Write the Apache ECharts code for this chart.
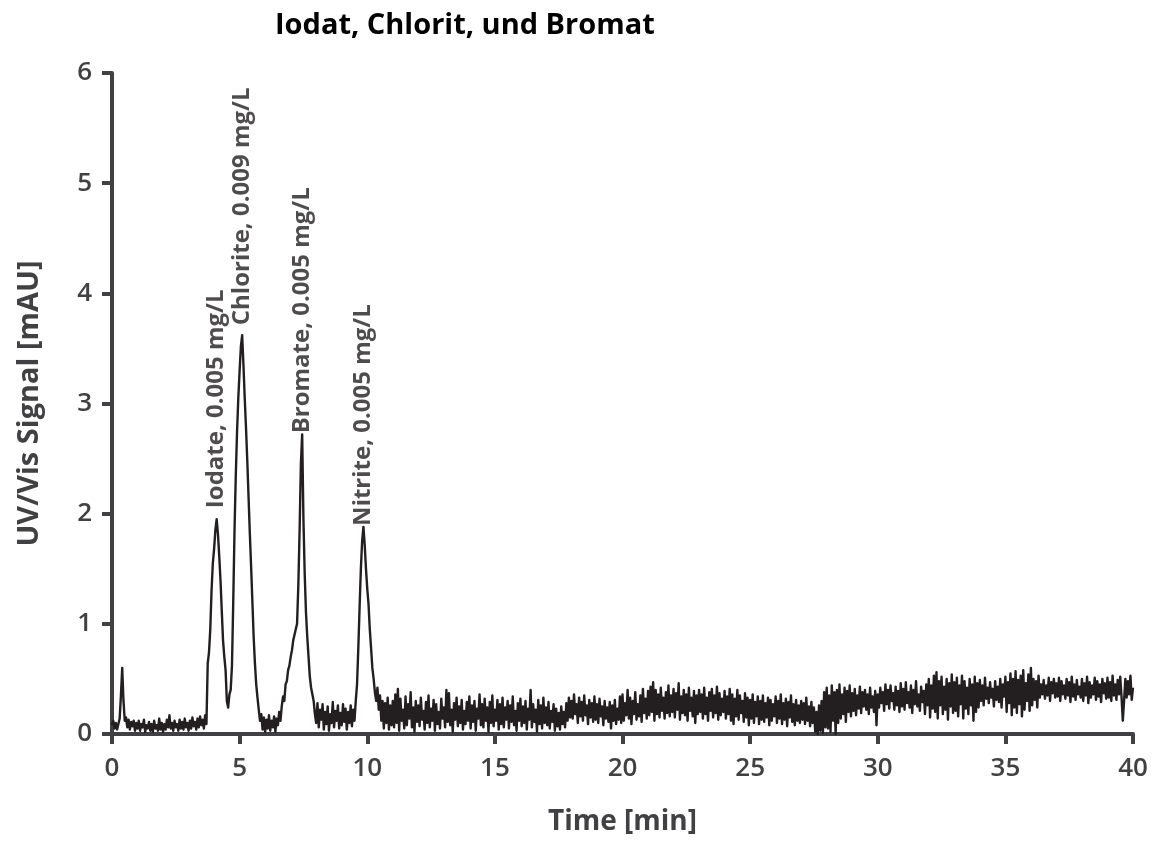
<!DOCTYPE html>
<html>
<head>
<meta charset="utf-8">
<script src="https://cdn.jsdelivr.net/npm/echarts@6/dist/echarts.min.js"></script>
<style>
  html, body { margin: 0; padding: 0; background: #ffffff; }
  #chart { width: 1158px; height: 843px; }
</style>
</head>
<body>
<div id="chart"></div>
<script>
// ---- data ----
const chartTitle = 'Iodat, Chlorit, und Bromat';
const xAxisTitle = 'Time [min]';
const yAxisTitle = 'UV/Vis Signal [mAU]';
const xTicks = [0, 5, 10, 15, 20, 25, 30, 35, 40];
const yTicks = [0, 1, 2, 3, 4, 5, 6];

// detector signal in mAU, sampled every 0.05 min from 0.00 to 40.00 min (one row per minute)
const startMin = 0;
const stepMin = 0.05;
const signal = [
  0.08, 0.12, 0.05, 0.10, 0.04, 0.09, 0.14, 0.35, 0.60, 0.30, 0.12, 0.15, 0.06, 0.13, 0.04, 0.11, 0.07, 0.12, 0.03, 0.10,
  0.05, 0.12, 0.03, 0.09, 0.06, 0.13, 0.02, 0.08, 0.05, 0.11, 0.03, 0.09, 0.02, 0.12, 0.05, 0.08, 0.03, 0.14, 0.04, 0.10,
  0.02, 0.09, 0.04, 0.13, 0.06, 0.17, 0.05, 0.10, 0.03, 0.12, 0.06, 0.09, 0.03, 0.13, 0.05, 0.11, 0.04, 0.14, 0.06, 0.10,
  0.03, 0.12, 0.05, 0.15, 0.07, 0.11, 0.04, 0.14, 0.06, 0.16, 0.08, 0.13, 0.05, 0.17, 0.09, 0.64, 0.74, 0.95, 1.30, 1.55,
  1.68, 1.85, 1.95, 1.82, 1.62, 1.40, 1.12, 0.85, 0.70, 0.58, 0.30, 0.24, 0.36, 0.40, 0.62, 1.20, 1.85, 2.35, 2.75, 3.06,
  3.30, 3.52, 3.62, 3.35, 3.05, 2.78, 2.48, 2.15, 1.82, 1.52, 1.20, 0.88, 0.64, 0.45, 0.33, 0.22, 0.12, 0.18, 0.04, 0.15,
  0.02, 0.13, 0.05, 0.17, 0.03, 0.12, 0.06, 0.16, 0.02, 0.14, 0.08, 0.20, 0.12, 0.25, 0.34, 0.30, 0.45, 0.48, 0.58, 0.62,
  0.70, 0.76, 0.85, 0.90, 0.95, 1.00, 1.35, 1.85, 2.45, 2.72, 1.95, 1.45, 1.10, 0.88, 0.70, 0.52, 0.42, 0.36, 0.30, 0.18,
  0.10, 0.28, 0.06, 0.22, 0.13, 0.27, 0.04, 0.20, 0.09, 0.25, 0.03, 0.18, 0.10, 0.29, 0.06, 0.21, 0.12, 0.26, 0.05, 0.19,
  0.08, 0.27, 0.11, 0.23, 0.04, 0.20, 0.10, 0.26, 0.07, 0.22, 0.12, 0.30, 0.45, 0.78, 1.15, 1.50, 1.75, 1.88, 1.72, 1.50,
  1.32, 1.18, 0.95, 0.78, 0.60, 0.50, 0.38, 0.30, 0.42, 0.22, 0.35, 0.12, 0.30, 0.05, 0.28, 0.10, 0.33, 0.04, 0.26, 0.08,
  0.30, 0.06, 0.36, 0.10, 0.41, 0.03, 0.32, 0.12, 0.22, 0.05, 0.34, 0.08, 0.27, 0.14, 0.38, 0.06, 0.24, 0.02, 0.30, 0.11,
  0.26, 0.07, 0.33, 0.13, 0.21, 0.04, 0.29, 0.10, 0.35, 0.06, 0.23, 0.12, 0.31, 0.03, 0.27, 0.09, 0.20, 0.05, 0.32, 0.14,
  0.24, 0.06, 0.40, 0.11, 0.37, 0.08, 0.22, 0.02, 0.28, 0.13, 0.33, 0.07, 0.25, 0.10, 0.31, 0.04, 0.21, 0.09, 0.29, 0.12,
  0.34, 0.05, 0.26, 0.11, 0.30, 0.03, 0.23, 0.14, 0.36, 0.08, 0.27, 0.06, 0.32, 0.12, 0.24, 0.02, 0.29, 0.10, 0.35, 0.07,
  0.22, 0.12, 0.31, 0.04, 0.27, 0.09, 0.33, 0.06, 0.24, 0.13, 0.30, 0.05, 0.26, 0.11, 0.34, 0.08, 0.21, 0.03, 0.28, 0.12,
  0.32, 0.07, 0.25, 0.10, 0.30, 0.04, 0.23, 0.13, 0.40, 0.06, 0.27, 0.11, 0.22, 0.02, 0.31, 0.09, 0.26, 0.05, 0.33, 0.10,
  0.24, 0.08, 0.29, 0.05, 0.21, 0.11, 0.27, 0.03, 0.23, 0.07, 0.19, 0.04, 0.25, 0.09, 0.20, 0.06, 0.28, 0.12, 0.33, 0.15,
  0.30, 0.14, 0.36, 0.18, 0.27, 0.10, 0.33, 0.16, 0.29, 0.12, 0.35, 0.17, 0.26, 0.09, 0.31, 0.15, 0.28, 0.11, 0.34, 0.13,
  0.27, 0.10, 0.32, 0.16, 0.25, 0.08, 0.30, 0.14, 0.24, 0.11, 0.29, 0.05, 0.26, 0.12, 0.31, 0.09, 0.23, 0.13, 0.34, 0.10,
  0.36, 0.12, 0.28, 0.17, 0.40, 0.14, 0.33, 0.09, 0.30, 0.18, 0.38, 0.13, 0.27, 0.16, 0.35, 0.11, 0.41, 0.19, 0.32, 0.14,
  0.39, 0.17, 0.43, 0.20, 0.47, 0.12, 0.40, 0.18, 0.36, 0.15, 0.42, 0.21, 0.33, 0.14, 0.38, 0.19, 0.44, 0.16, 0.35, 0.20,
  0.41, 0.15, 0.37, 0.22, 0.46, 0.13, 0.34, 0.19, 0.40, 0.17, 0.36, 0.12, 0.42, 0.21, 0.33, 0.16, 0.39, 0.10, 0.35, 0.18,
  0.40, 0.20, 0.36, 0.14, 0.42, 0.18, 0.33, 0.12, 0.38, 0.21, 0.41, 0.15, 0.35, 0.19, 0.43, 0.13, 0.37, 0.17, 0.32, 0.20,
  0.39, 0.14, 0.34, 0.18, 0.41, 0.12, 0.36, 0.09, 0.32, 0.16, 0.40, 0.13, 0.35, 0.19, 0.30, 0.11, 0.37, 0.15, 0.33, 0.08,
  0.31, 0.14, 0.36, 0.10, 0.29, 0.16, 0.34, 0.09, 0.30, 0.13, 0.35, 0.11, 0.28, 0.15, 0.33, 0.08, 0.31, 0.12, 0.27, 0.16,
  0.34, 0.10, 0.30, 0.14, 0.36, 0.09, 0.28, 0.13, 0.32, 0.07, 0.29, 0.15, 0.35, 0.11, 0.27, 0.08, 0.31, 0.12, 0.26, 0.10,
  0.30, 0.13, 0.28, 0.09, 0.33, 0.12, 0.25, 0.07, 0.29, 0.10, 0.24, 0.02, 0.20, 0.00, 0.26, 0.03, 0.30, 0.01, 0.38, 0.06,
  0.42, 0.05, 0.35, 0.02, 0.44, 0.12, 0.38, 0.00, 0.40, 0.10, 0.45, 0.14, 0.36, 0.18, 0.42, 0.11, 0.39, 0.20, 0.44, 0.16,
  0.37, 0.21, 0.41, 0.17, 0.35, 0.23, 0.43, 0.19, 0.38, 0.25, 0.40, 0.22, 0.36, 0.18, 0.42, 0.24, 0.34, 0.20, 0.39, 0.08,
  0.36, 0.24, 0.42, 0.28, 0.38, 0.21, 0.45, 0.27, 0.40, 0.23, 0.44, 0.30, 0.37, 0.22, 0.43, 0.26, 0.39, 0.20, 0.46, 0.25,
  0.41, 0.22, 0.47, 0.28, 0.38, 0.24, 0.44, 0.19, 0.40, 0.27, 0.48, 0.25, 0.36, 0.21, 0.43, 0.29, 0.39, 0.18, 0.45, 0.26,
  0.50, 0.15, 0.44, 0.23, 0.53, 0.20, 0.56, 0.14, 0.48, 0.26, 0.52, 0.18, 0.43, 0.22, 0.50, 0.13, 0.46, 0.25, 0.54, 0.19,
  0.47, 0.21, 0.51, 0.16, 0.44, 0.27, 0.53, 0.14, 0.48, 0.23, 0.42, 0.18, 0.50, 0.26, 0.45, 0.12, 0.52, 0.20, 0.46, 0.24,
  0.49, 0.30, 0.44, 0.26, 0.51, 0.32, 0.42, 0.28, 0.47, 0.33, 0.41, 0.25, 0.48, 0.31, 0.43, 0.29, 0.50, 0.24, 0.45, 0.34,
  0.52, 0.20, 0.47, 0.28, 0.55, 0.17, 0.50, 0.24, 0.57, 0.19, 0.49, 0.27, 0.53, 0.16, 0.58, 0.22, 0.46, 0.30, 0.54, 0.21,
  0.60, 0.26, 0.50, 0.31, 0.48, 0.24, 0.53, 0.33, 0.45, 0.36, 0.49, 0.32, 0.44, 0.35, 0.51, 0.30, 0.47, 0.37, 0.50, 0.33,
  0.46, 0.34, 0.51, 0.30, 0.48, 0.36, 0.44, 0.32, 0.50, 0.35, 0.47, 0.29, 0.52, 0.34, 0.45, 0.31, 0.49, 0.36, 0.43, 0.33,
  0.50, 0.30, 0.46, 0.35, 0.52, 0.28, 0.47, 0.33, 0.44, 0.36, 0.51, 0.31, 0.48, 0.34, 0.45, 0.29, 0.50, 0.37, 0.46, 0.32,
  0.51, 0.33, 0.47, 0.30, 0.53, 0.35, 0.45, 0.31, 0.49, 0.36, 0.52, 0.34, 0.12, 0.30, 0.50, 0.33, 0.48, 0.36, 0.53, 0.31,
  0.42
];

// peak annotations
const peakNames   = ['Iodate, 0.005 mg/L', 'Chlorite, 0.009 mg/L', 'Bromate, 0.005 mg/L', 'Nitrite, 0.005 mg/L'];
const peakTimes   = [4.1, 5.1, 7.45, 9.85];
const peakHeights = [1.95, 3.62, 2.72, 1.88];

// ---- chart ----
const FONT = 'Open Sans';
const AXIS_COLOR = '#414042';
const TEXT_GRAY = '#414042';
const labelGaps = [11, 10, 1, 1];

const lineData = signal.map((v, i) => [+(startMin + i * stepMin).toFixed(2), v]);
const peakData = peakNames.map((n, i) => ({
  name: n,
  value: [peakTimes[i], peakHeights[i]],
  label: { distance: labelGaps[i] }
}));

const chart = echarts.init(document.getElementById('chart'), null, { renderer: 'canvas' });
chart.setOption({
  animation: false,
  backgroundColor: '#ffffff',
  title: {
    text: chartTitle,
    left: 270,
    top: 6,
    textStyle: { fontFamily: FONT, fontWeight: 'bold', fontSize: 29, color: '#000000' }
  },
  grid: { left: 112, right: 25, top: 73, bottom: 109, containLabel: false },
  xAxis: {
    type: 'value',
    min: 0, max: 40, interval: 5,
    name: xAxisTitle,
    nameLocation: 'middle',
    nameGap: 74,
    nameTextStyle: { fontFamily: FONT, fontWeight: 'bold', fontSize: 28, color: TEXT_GRAY },
    axisLine: { show: true, onZero: false, lineStyle: { color: AXIS_COLOR, width: 4 } },
    axisTick: { show: true, inside: false, length: 10, lineStyle: { color: AXIS_COLOR, width: 4 } },
    axisLabel: {
      margin: 22, fontFamily: FONT, fontWeight: 600, fontSize: 26, color: TEXT_GRAY,
      customValues: xTicks
    },
    splitLine: { show: false }
  },
  yAxis: {
    type: 'value',
    min: 0, max: 6, interval: 1,
    name: yAxisTitle,
    nameLocation: 'middle',
    nameRotate: 90,
    nameGap: 68,
    nameTextStyle: { fontFamily: FONT, fontWeight: 'bold', fontSize: 29, color: TEXT_GRAY },
    axisLine: { show: true, onZero: false, lineStyle: { color: AXIS_COLOR, width: 4 } },
    axisTick: { show: true, inside: false, length: 10, lineStyle: { color: AXIS_COLOR, width: 4 } },
    axisLabel: {
      margin: 20, fontFamily: FONT, fontWeight: 600, fontSize: 26, color: TEXT_GRAY,
      customValues: yTicks
    },
    splitLine: { show: false }
  },
  series: [
    {
      type: 'line',
      data: lineData,
      showSymbol: false,
      symbol: 'none',
      clip: true,
      lineStyle: { color: '#231f20', width: 2.4, join: 'round' },
      z: 3
    },
    {
      type: 'scatter',
      data: peakData,
      symbolSize: 0,
      silent: true,
      label: {
        show: true,
        formatter: '{b}',
        position: 'top',
        rotate: 90,
        align: 'left',
        verticalAlign: 'middle',
        fontFamily: FONT,
        fontWeight: 'bold',
        fontSize: 24,
        color: '#231f20'
      },
      z: 4
    }
  ]
});
</script>
</body>
</html>
